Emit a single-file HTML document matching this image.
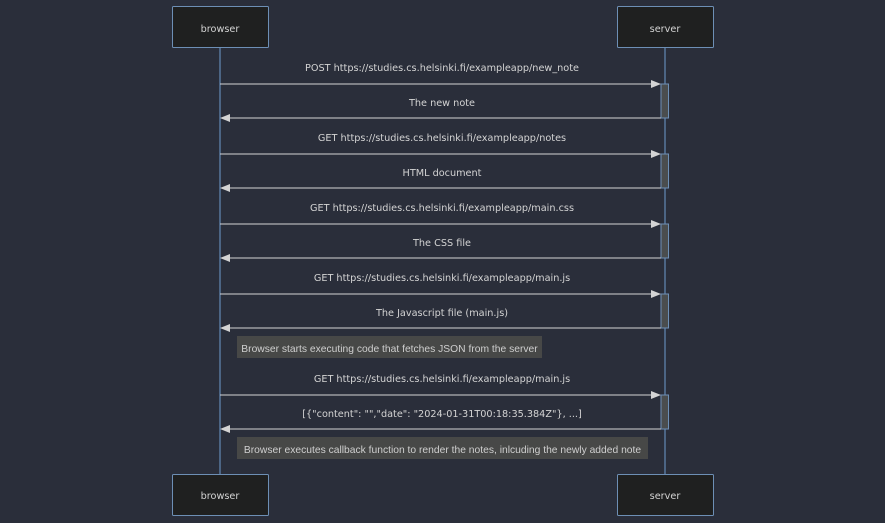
<!DOCTYPE html>
<html><head><meta charset="utf-8"><style>
html,body{margin:0;padding:0;background:#2a2e3a;}
svg{display:block}
text{font-family:"DejaVu Sans","Liberation Sans",sans-serif;font-size:9.7px;fill:#d4d4d4;}
text.n{font-family:"Liberation Sans",sans-serif;font-size:10.3px;fill:#cfcfcf;}
</style></head><body>
<svg width="885" height="523" viewBox="0 0 885 523" xmlns="http://www.w3.org/2000/svg">
<rect width="885" height="523" fill="#2a2e3a"/>
<defs>
<marker id="a" markerWidth="10" markerHeight="8" refX="9" refY="4" orient="auto" markerUnits="userSpaceOnUse">
<path d="M0,0 L10,4 L0,8 z" fill="#d4d4d4"/></marker>
</defs>
<line x1="220" y1="48" x2="220" y2="474" stroke="#6d9ccd" stroke-width="1"/>
<line x1="665" y1="48" x2="665" y2="474" stroke="#6d9ccd" stroke-width="1"/>
<g fill="#1f2020" stroke="#6d8fb5" stroke-width="1">
<rect x="172.5" y="6.5" width="96" height="41" rx="1"/>
<rect x="617.5" y="6.5" width="96" height="41" rx="1"/>
<rect x="172.5" y="474.5" width="96" height="41" rx="1"/>
<rect x="617.5" y="474.5" width="96" height="41" rx="1"/>
</g>
<g text-anchor="middle">
<text x="220" y="32">browser</text><text x="665" y="32">server</text>
<text x="220" y="499">browser</text><text x="665" y="499">server</text>
</g>
<g fill="#4a4d4e" stroke="#6d8fb5" stroke-width="1">
<rect x="661" y="84" width="7.5" height="34"/>
<rect x="661" y="154" width="7.5" height="34"/>
<rect x="661" y="224" width="7.5" height="34"/>
<rect x="661" y="294" width="7.5" height="34"/>
<rect x="661" y="395" width="7.5" height="34"/>
</g>
<g stroke="#d4d4d4" stroke-width="1">
<line x1="220" y1="84" x2="660" y2="84" marker-end="url(#a)"/>
<line x1="661" y1="118" x2="221" y2="118" marker-end="url(#a)"/>
<line x1="220" y1="154" x2="660" y2="154" marker-end="url(#a)"/>
<line x1="661" y1="188" x2="221" y2="188" marker-end="url(#a)"/>
<line x1="220" y1="224" x2="660" y2="224" marker-end="url(#a)"/>
<line x1="661" y1="258" x2="221" y2="258" marker-end="url(#a)"/>
<line x1="220" y1="294" x2="660" y2="294" marker-end="url(#a)"/>
<line x1="661" y1="328" x2="221" y2="328" marker-end="url(#a)"/>
<line x1="220" y1="395" x2="660" y2="395" marker-end="url(#a)"/>
<line x1="661" y1="429" x2="221" y2="429" marker-end="url(#a)"/>
</g>
<g text-anchor="middle">
<text x="442" y="71">POST https://studies.cs.helsinki.fi/exampleapp/new_note</text>
<text x="442" y="106">The new note</text>
<text x="442" y="141">GET https://studies.cs.helsinki.fi/exampleapp/notes</text>
<text x="442" y="176">HTML document</text>
<text x="442" y="211">GET https://studies.cs.helsinki.fi/exampleapp/main.css</text>
<text x="442" y="246">The CSS file</text>
<text x="442" y="281">GET https://studies.cs.helsinki.fi/exampleapp/main.js</text>
<text x="442" y="316">The Javascript file (main.js)</text>
<text x="442" y="382">GET https://studies.cs.helsinki.fi/exampleapp/main.js</text>
<text x="442" y="417">[{"content": "","date": "2024-01-31T00:18:35.384Z"}, ...]</text>
</g>
<rect x="237" y="336" width="305" height="22" fill="#474847"/>
<text class="n" x="389.5" y="352" text-anchor="middle">Browser starts executing code that fetches JSON from the server</text>
<rect x="237" y="437" width="411" height="22" fill="#474847"/>
<text class="n" x="442.5" y="453" text-anchor="middle">Browser executes callback function to render the notes, inlcuding the newly added note</text>
</svg>
</body></html>
